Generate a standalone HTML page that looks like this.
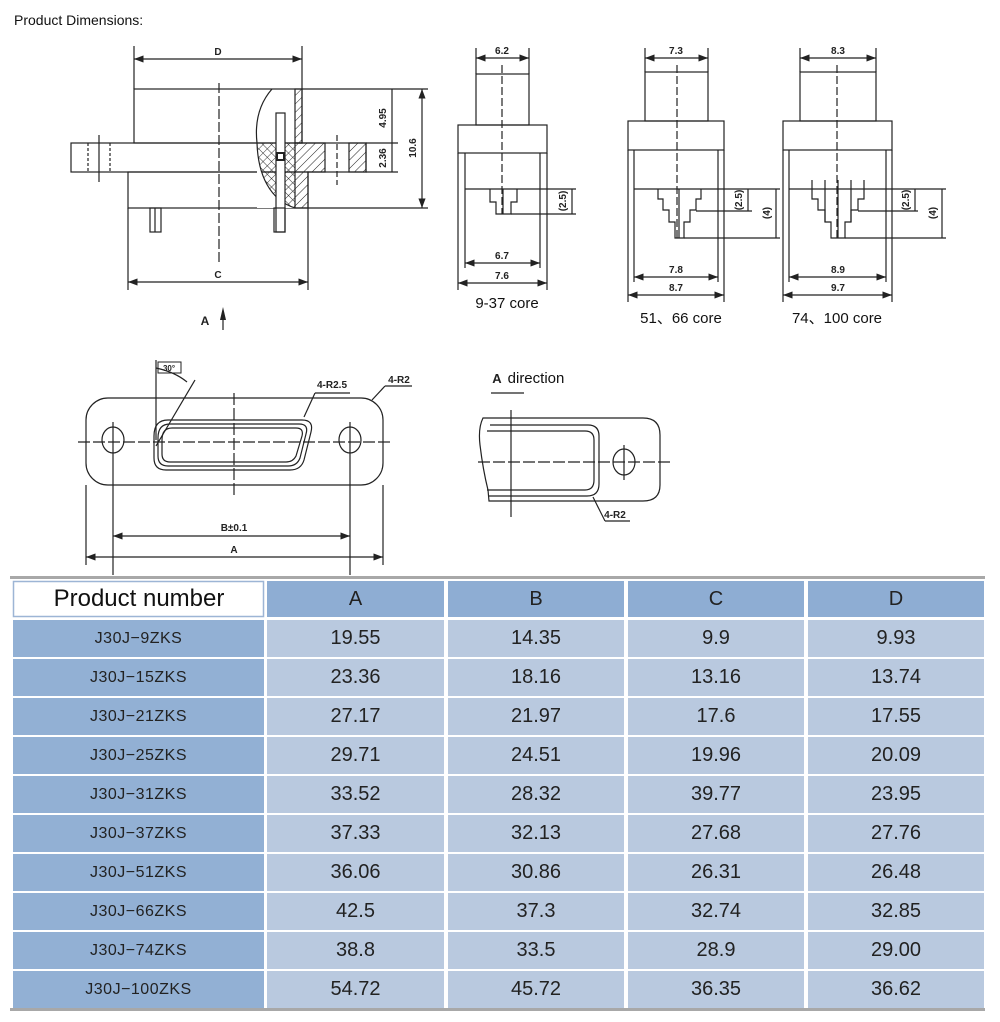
<!DOCTYPE html>
<html><head><meta charset="utf-8"><style>
html,body{margin:0;padding:0;background:#fff;}
body{width:1000px;height:1022px;position:relative;overflow:hidden;font-family:"Liberation Sans",sans-serif;}
svg{position:absolute;left:0;top:0;}
.t{position:absolute;font-family:"Liberation Sans",sans-serif;color:#222;text-align:center;display:flex;align-items:center;justify-content:center;}
.h{background:#8eadd3;font-size:20px;}
.p{background:#92b0d4;font-size:16px;letter-spacing:0.5px;}
.d{background:#b9c9df;font-size:20px;}
</style></head><body>
<svg width="1000" height="1022" viewBox="0 0 1000 1022" font-family="Liberation Sans, sans-serif">
<defs>
<pattern id="hat" width="6" height="6" patternUnits="userSpaceOnUse" patternTransform="rotate(45)"><line x1="0" y1="0" x2="0" y2="6" stroke="#222" stroke-width="1"/></pattern>
<pattern id="xh" width="6" height="6" patternUnits="userSpaceOnUse" patternTransform="rotate(45)"><line x1="0" y1="0" x2="0" y2="6" stroke="#222" stroke-width="0.9"/><line x1="0" y1="0" x2="6" y2="0" stroke="#222" stroke-width="0.9"/></pattern>
<marker id="ar" markerWidth="8" markerHeight="6" refX="8" refY="3" orient="auto-start-reverse"><path d="M0,0 L8,3 L0,6" fill="#222"/></marker>
</defs>
<text x="14" y="25" font-size="14" fill="#111">Product Dimensions:</text>
<g stroke="#222" stroke-width="1.2" fill="none">
<!-- main side view -->
<line x1="134" y1="46" x2="134" y2="89"/><line x1="302" y1="46" x2="302" y2="89"/>
<line x1="134" y1="59" x2="302" y2="59" marker-start="url(#ar)" marker-end="url(#ar)"/>
<rect x="134" y="89" width="168" height="54"/>
<rect x="71" y="143" width="295" height="29"/>
<rect x="128" y="172" width="180" height="36"/>
<rect x="257" y="143" width="38" height="65" fill="url(#xh)" stroke="none"/>
<path d="M257,143 C258,175 270,200 295,208 L257,208 Z" fill="#fff" stroke="none"/>
<path d="M272,89 C258,105 255,125 257,143 C258,175 270,200 295,208" />
<rect x="295" y="89" width="7" height="54" fill="url(#hat)"/>
<path d="M295,143 L325,143 L325,172 L308,172 L308,208 L295,208 Z" fill="url(#hat)"/>
<rect x="349" y="143" width="17" height="29" fill="url(#hat)"/>
<rect x="276" y="113" width="9" height="119" fill="#fff"/>
<rect x="277" y="153" width="7" height="7" stroke-width="2"/>
<rect x="150" y="208" width="11" height="24"/><line x1="155" y1="208" x2="155" y2="232"/>
<rect x="274" y="208" width="11" height="24"/>
<line x1="88" y1="143" x2="88" y2="172" stroke-dasharray="3,2"/><line x1="110" y1="143" x2="110" y2="172" stroke-dasharray="3,2"/>
<line x1="99" y1="135" x2="99" y2="182"/><line x1="337" y1="135" x2="337" y2="185" stroke-dasharray="6,3"/>
<line x1="219" y1="83" x2="219" y2="262" stroke-dasharray="10,3"/>
<line x1="128" y1="208" x2="128" y2="290"/><line x1="308" y1="208" x2="308" y2="290"/>
<line x1="128" y1="282" x2="308" y2="282" marker-start="url(#ar)" marker-end="url(#ar)"/>
<line x1="302" y1="89" x2="428" y2="89"/><line x1="366" y1="143" x2="398" y2="143"/><line x1="366" y1="172" x2="398" y2="172"/><line x1="308" y1="208" x2="428" y2="208"/>
<line x1="392" y1="89" x2="392" y2="172"/>
<line x1="422" y1="89" x2="422" y2="208" marker-start="url(#ar)" marker-end="url(#ar)"/>
<line x1="223" y1="330" x2="223" y2="312"/>
</g>
<path d="M220,320 L223,307 L226,320 Z" fill="#222"/>
<g font-size="10" font-weight="bold" fill="#222" text-anchor="middle">
<text x="218" y="55">D</text><text x="218" y="278">C</text>
<text x="386" y="118" transform="rotate(-90 386 118)">4.95</text>
<text x="386" y="158" transform="rotate(-90 386 158)">2.36</text>
<text x="416" y="148" transform="rotate(-90 416 148)">10.6</text>
<text x="205" y="325" font-size="12">A</text>
</g>
<!-- 9-37 core -->
<g stroke="#222" stroke-width="1.2" fill="none">
<line x1="476" y1="48" x2="476" y2="74"/><line x1="529" y1="48" x2="529" y2="74"/>
<line x1="476" y1="58" x2="529" y2="58" marker-start="url(#ar)" marker-end="url(#ar)"/>
<rect x="476" y="74" width="53" height="51"/>
<rect x="458" y="125" width="89" height="28"/>
<line x1="458" y1="153" x2="458" y2="290"/><line x1="547" y1="153" x2="547" y2="290"/>
<line x1="465" y1="153" x2="465" y2="268"/><line x1="540" y1="153" x2="540" y2="268"/>
<line x1="465" y1="189" x2="576" y2="189"/>
<path d="M490,189 V202 H496 V214 H511 V202 H517 V189"/><line x1="503" y1="189" x2="503" y2="214"/>
<line x1="511" y1="214" x2="576" y2="214"/>
<line x1="572" y1="189" x2="572" y2="214"/>
<line x1="502" y1="65" x2="502" y2="214" stroke-dasharray="8,3"/>
<line x1="465" y1="263" x2="540" y2="263" marker-start="url(#ar)" marker-end="url(#ar)"/>
<line x1="458" y1="283" x2="547" y2="283" marker-start="url(#ar)" marker-end="url(#ar)"/>
</g>
<!-- 51/66 -->
<g stroke="#222" stroke-width="1.2" fill="none">
<line x1="645" y1="48" x2="645" y2="72"/><line x1="708" y1="48" x2="708" y2="72"/>
<line x1="645" y1="58" x2="708" y2="58" marker-start="url(#ar)" marker-end="url(#ar)"/>
<rect x="645" y="72" width="63" height="49"/>
<rect x="628" y="121" width="96" height="29"/>
<line x1="628" y1="150" x2="628" y2="302"/><line x1="724" y1="150" x2="724" y2="302"/>
<line x1="634" y1="150" x2="634" y2="282"/><line x1="718" y1="150" x2="718" y2="282"/>
<line x1="634" y1="189" x2="780" y2="189"/>
<path d="M658,189 V199 H663 V210 H669 V222 H675 V238 H684 V222 H690 V210 H696 V199 H701 V189"/>
<line x1="679" y1="189" x2="679" y2="238"/>
<line x1="696" y1="211" x2="752" y2="211"/><line x1="684" y1="238" x2="780" y2="238"/>
<line x1="748" y1="189" x2="748" y2="211"/><line x1="776" y1="189" x2="776" y2="238"/>
<line x1="677" y1="65" x2="677" y2="238" stroke-dasharray="8,3"/>
<line x1="634" y1="277" x2="718" y2="277" marker-start="url(#ar)" marker-end="url(#ar)"/>
<line x1="628" y1="295" x2="724" y2="295" marker-start="url(#ar)" marker-end="url(#ar)"/>
</g>
<!-- 74/100 -->
<g stroke="#222" stroke-width="1.2" fill="none">
<line x1="800" y1="48" x2="800" y2="72"/><line x1="876" y1="48" x2="876" y2="72"/>
<line x1="800" y1="58" x2="876" y2="58" marker-start="url(#ar)" marker-end="url(#ar)"/>
<rect x="800" y="72" width="76" height="49"/>
<rect x="783" y="121" width="109" height="29"/>
<line x1="783" y1="150" x2="783" y2="302"/><line x1="892" y1="150" x2="892" y2="302"/>
<line x1="789" y1="150" x2="789" y2="282"/><line x1="886" y1="150" x2="886" y2="282"/>
<line x1="789" y1="189" x2="946" y2="189"/>
<path d="M812,180 V199 H818 V210 H825 V222 H831 V238 H845 V222 H851 V210 H858 V199 H864 V180"/>
<line x1="838" y1="180" x2="838" y2="238"/><line x1="825" y1="180" x2="825" y2="222"/><line x1="851" y1="180" x2="851" y2="222"/>
<line x1="858" y1="211" x2="918" y2="211"/><line x1="845" y1="238" x2="946" y2="238"/>
<line x1="915" y1="189" x2="915" y2="211"/><line x1="942" y1="189" x2="942" y2="238"/>
<line x1="837" y1="65" x2="837" y2="238" stroke-dasharray="8,3"/>
<line x1="789" y1="277" x2="886" y2="277" marker-start="url(#ar)" marker-end="url(#ar)"/>
<line x1="783" y1="295" x2="892" y2="295" marker-start="url(#ar)" marker-end="url(#ar)"/>
</g>
<g font-size="10" font-weight="bold" fill="#222" text-anchor="middle">
<text x="502" y="54">6.2</text><text x="502" y="259">6.7</text><text x="502" y="279">7.6</text>
<text x="566" y="201" transform="rotate(-90 566 201)">(2.5)</text>
<text x="676" y="54">7.3</text><text x="676" y="273">7.8</text><text x="676" y="291">8.7</text>
<text x="742" y="200" transform="rotate(-90 742 200)">(2.5)</text><text x="770" y="213" transform="rotate(-90 770 213)">(4)</text>
<text x="838" y="54">8.3</text><text x="838" y="273">8.9</text><text x="838" y="291">9.7</text>
<text x="909" y="200" transform="rotate(-90 909 200)">(2.5)</text><text x="936" y="213" transform="rotate(-90 936 213)">(4)</text>
</g>
<g font-size="15" fill="#111" text-anchor="middle" font-family="Liberation Sans, Noto Sans CJK SC, sans-serif">
<text x="507" y="308">9-37 core</text><text x="681" y="323">51、66 core</text><text x="837" y="323">74、100 core</text>
<text x="536" y="383">direction</text>
</g>
<!-- flange top view -->
<g stroke="#222" stroke-width="1.2" fill="none">
<rect x="86" y="398" width="297" height="87" rx="22"/>
<ellipse cx="113" cy="440" rx="11" ry="13"/><ellipse cx="350" cy="440" rx="11" ry="13"/>
<line x1="78" y1="442" x2="392" y2="442" stroke-dasharray="12,3"/>
<line x1="113" y1="422" x2="113" y2="575"/><line x1="350" y1="422" x2="350" y2="575"/>
<line x1="86" y1="485" x2="86" y2="565"/><line x1="383" y1="485" x2="383" y2="565"/>
<line x1="234" y1="393" x2="234" y2="497" stroke-dasharray="12,3"/>
<path d="M168,420 L302,420 Q314,420 311,432 L304,460 Q301,470 290,470 L166,470 Q154,470 154,458 L154,436 Q154,420 168,420 Z"/>
<path d="M170,424 L299,424 Q309,424 306,434 L300,458 Q297,466 288,466 L168,466 Q158,466 158,456 L158,438 Q158,424 170,424 Z"/>
<path d="M172,428 L296,428 Q304,428 302,436 L296,456 Q293,462 286,462 L170,462 Q162,462 162,454 L162,440 Q162,428 172,428 Z"/>
<line x1="113" y1="536" x2="350" y2="536" marker-start="url(#ar)" marker-end="url(#ar)"/>
<line x1="86" y1="557" x2="383" y2="557" marker-start="url(#ar)" marker-end="url(#ar)"/>
<line x1="156" y1="360" x2="156" y2="440"/>
<line x1="156" y1="446" x2="195" y2="380"/>
<path d="M156,368 Q175,372 187,382"/>
<rect x="158" y="362" width="23" height="11" stroke-width="1"/>
<line x1="304" y1="417" x2="315" y2="393"/><line x1="315" y1="393" x2="350" y2="393"/>
<line x1="372" y1="400" x2="385" y2="386"/><line x1="385" y1="386" x2="412" y2="386"/>
</g>
<g font-size="10" font-weight="bold" fill="#222" text-anchor="middle">
<text x="169" y="371" font-size="8">30°</text>
<text x="332" y="388">4-R2.5</text><text x="399" y="383">4-R2</text>
<text x="234" y="531">B±0.1</text><text x="234" y="553">A</text>
<text x="497" y="383" font-size="13">A</text>
</g>
<!-- A direction view -->
<g stroke="#222" stroke-width="1.2" fill="none">
<line x1="491" y1="393" x2="524" y2="393"/>
<path d="M483,418 L643,418 Q660,418 660,435 L660,485 Q660,501 643,501 L489,501 L488,490 Q483,470 480,445 Q478,428 483,418 Z"/>
<path d="M490,425 L588,425 Q599,425 599,436 L599,484 Q599,496 587,496 L488,496"/>
<path d="M487,431 L585,431 Q594,431 594,440 L594,480 Q594,490 585,490 L487,490"/>
<ellipse cx="624" cy="462" rx="11" ry="13"/>
<line x1="478" y1="462" x2="670" y2="462" stroke-dasharray="12,3"/>
<line x1="624" y1="445" x2="624" y2="480"/>
<line x1="511" y1="410" x2="511" y2="517"/>
<line x1="593" y1="497" x2="605" y2="521"/><line x1="605" y1="521" x2="630" y2="521"/>
</g>
<text x="615" y="518" font-size="10" font-weight="bold" fill="#222" text-anchor="middle">4-R2</text>
<!-- table frame lines -->
<rect x="10" y="576" width="975" height="3" fill="#a8a8a8"/>
<rect x="10" y="1008" width="975" height="3" fill="#a8a8a8"/>
<rect x="13.5" y="581.5" width="250" height="35" fill="#fff" stroke="#9db5d5" stroke-width="1.5"/>
</svg>
<div class="t" style="left:14px;top:582px;width:250px;height:34px;font-size:24px;color:#111;">Product number</div>
<div class="t h" style="left:267px;top:581px;width:177px;height:36px;">A</div>
<div class="t h" style="left:448px;top:581px;width:176px;height:36px;">B</div>
<div class="t h" style="left:628px;top:581px;width:176px;height:36px;">C</div>
<div class="t h" style="left:808px;top:581px;width:176px;height:36px;">D</div>
<div id="rows"></div>
<div class="t p" style="left:13px;top:620px;width:251px;height:37px;">J30J−9ZKS</div><div class="t d" style="left:267px;top:620px;width:177px;height:37px;">19.55</div><div class="t d" style="left:448px;top:620px;width:176px;height:37px;">14.35</div><div class="t d" style="left:628px;top:620px;width:176px;height:37px;">9.9</div><div class="t d" style="left:808px;top:620px;width:176px;height:37px;">9.93</div>
<div class="t p" style="left:13px;top:659px;width:251px;height:37px;">J30J−15ZKS</div><div class="t d" style="left:267px;top:659px;width:177px;height:37px;">23.36</div><div class="t d" style="left:448px;top:659px;width:176px;height:37px;">18.16</div><div class="t d" style="left:628px;top:659px;width:176px;height:37px;">13.16</div><div class="t d" style="left:808px;top:659px;width:176px;height:37px;">13.74</div>
<div class="t p" style="left:13px;top:698px;width:251px;height:37px;">J30J−21ZKS</div><div class="t d" style="left:267px;top:698px;width:177px;height:37px;">27.17</div><div class="t d" style="left:448px;top:698px;width:176px;height:37px;">21.97</div><div class="t d" style="left:628px;top:698px;width:176px;height:37px;">17.6</div><div class="t d" style="left:808px;top:698px;width:176px;height:37px;">17.55</div>
<div class="t p" style="left:13px;top:737px;width:251px;height:37px;">J30J−25ZKS</div><div class="t d" style="left:267px;top:737px;width:177px;height:37px;">29.71</div><div class="t d" style="left:448px;top:737px;width:176px;height:37px;">24.51</div><div class="t d" style="left:628px;top:737px;width:176px;height:37px;">19.96</div><div class="t d" style="left:808px;top:737px;width:176px;height:37px;">20.09</div>
<div class="t p" style="left:13px;top:776px;width:251px;height:37px;">J30J−31ZKS</div><div class="t d" style="left:267px;top:776px;width:177px;height:37px;">33.52</div><div class="t d" style="left:448px;top:776px;width:176px;height:37px;">28.32</div><div class="t d" style="left:628px;top:776px;width:176px;height:37px;">39.77</div><div class="t d" style="left:808px;top:776px;width:176px;height:37px;">23.95</div>
<div class="t p" style="left:13px;top:815px;width:251px;height:37px;">J30J−37ZKS</div><div class="t d" style="left:267px;top:815px;width:177px;height:37px;">37.33</div><div class="t d" style="left:448px;top:815px;width:176px;height:37px;">32.13</div><div class="t d" style="left:628px;top:815px;width:176px;height:37px;">27.68</div><div class="t d" style="left:808px;top:815px;width:176px;height:37px;">27.76</div>
<div class="t p" style="left:13px;top:854px;width:251px;height:37px;">J30J−51ZKS</div><div class="t d" style="left:267px;top:854px;width:177px;height:37px;">36.06</div><div class="t d" style="left:448px;top:854px;width:176px;height:37px;">30.86</div><div class="t d" style="left:628px;top:854px;width:176px;height:37px;">26.31</div><div class="t d" style="left:808px;top:854px;width:176px;height:37px;">26.48</div>
<div class="t p" style="left:13px;top:893px;width:251px;height:37px;">J30J−66ZKS</div><div class="t d" style="left:267px;top:893px;width:177px;height:37px;">42.5</div><div class="t d" style="left:448px;top:893px;width:176px;height:37px;">37.3</div><div class="t d" style="left:628px;top:893px;width:176px;height:37px;">32.74</div><div class="t d" style="left:808px;top:893px;width:176px;height:37px;">32.85</div>
<div class="t p" style="left:13px;top:932px;width:251px;height:37px;">J30J−74ZKS</div><div class="t d" style="left:267px;top:932px;width:177px;height:37px;">38.8</div><div class="t d" style="left:448px;top:932px;width:176px;height:37px;">33.5</div><div class="t d" style="left:628px;top:932px;width:176px;height:37px;">28.9</div><div class="t d" style="left:808px;top:932px;width:176px;height:37px;">29.00</div>
<div class="t p" style="left:13px;top:971px;width:251px;height:37px;">J30J−100ZKS</div><div class="t d" style="left:267px;top:971px;width:177px;height:37px;">54.72</div><div class="t d" style="left:448px;top:971px;width:176px;height:37px;">45.72</div><div class="t d" style="left:628px;top:971px;width:176px;height:37px;">36.35</div><div class="t d" style="left:808px;top:971px;width:176px;height:37px;">36.62</div>
</body></html>
